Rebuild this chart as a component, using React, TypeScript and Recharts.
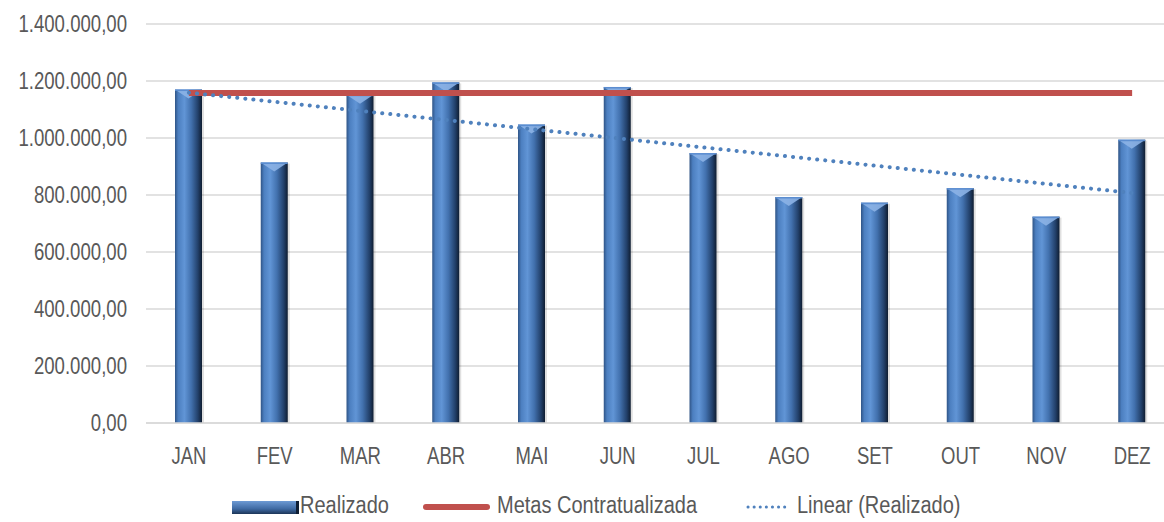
import { Bar, CartesianGrid, ComposedChart, Legend, Line, XAxis, YAxis } from "recharts";

const months = ["JAN", "FEV", "MAR", "ABR", "MAI", "JUN", "JUL", "AGO", "SET", "OUT", "NOV", "DEZ"];
const realizado = [1170000, 914000, 1152000, 1195000, 1047000, 1179000, 947000, 793000, 773000, 824000, 724000, 994000];
const metas = [1158000, 1158000, 1158000, 1158000, 1158000, 1158000, 1158000, 1158000, 1158000, 1158000, 1158000, 1158000];
const tendencia = [1159000, 1127000, 1095000, 1063000, 1031000, 999000, 967000, 935000, 903000, 871000, 839000, 807000];
const yTicks = [0, 200000, 400000, 600000, 800000, 1000000, 1200000, 1400000];

const data = months.map((m, i) => ({
  mes: m,
  realizado: realizado[i],
  metas: metas[i],
  linear: tendencia[i],
}));

const font = "'Liberation Sans', Arial, sans-serif";

// 1400000 -> "1.400.000,00"
function fmtBR(v: number) {
  const s = Math.round(v).toString().replace(/\B(?=(\d{3})+(?!\d))/g, ".");
  return s + ",00";
}

// text is a bit tall and narrow in the source, so stretch it vertically
function YTick(props: any) {
  const { x, y, payload } = props;
  return (
    <g transform={`translate(${x},${y})`}>
      <text transform="scale(1,1.25)" textAnchor="end" dy="0.355em" fill="#595959" fontSize={18.6} fontFamily={font}>
        {fmtBR(payload.value)}
      </text>
    </g>
  );
}

function XTick(props: any) {
  const { x, y, payload } = props;
  return (
    <g transform={`translate(${x},${y})`}>
      <text transform="scale(1,1.25)" textAnchor="middle" dy="0.71em" fill="#595959" fontSize={18.5} fontFamily={font}>
        {payload.value}
      </text>
    </g>
  );
}

function CylBar(props: any) {
  const { x, y, width, height } = props;
  if (!height || height <= 0) return null;
  const bevel = Math.min(9, height);
  return (
    <g>
      <rect x={x + 2} y={y + 1} width={width} height={height - 1} fill="#000" opacity={0.12} />
      <rect x={x} y={y} width={width} height={height} fill="url(#barGrad)" />
      <path d={`M${x},${y} L${x + width},${y} L${x + width / 2},${y + bevel} Z`} fill="#8cb3e6" opacity={0.9} />
      <rect x={x} y={y} width={width} height={1.5} fill="#5b8dd0" />
    </g>
  );
}

function LegendBox() {
  const txt: any = {
    fontFamily: font,
    fontSize: 20,
    color: "#595959",
    position: "absolute",
    top: 2,
    transform: "scaleY(1.15)",
    whiteSpace: "nowrap",
  };
  return (
    <div style={{ height: 30, position: "relative" }}>
      <div style={{ position: "absolute", left: 232, top: 9, width: 64, height: 13, background: "linear-gradient(to bottom, #6d9ad4, #3f6aa3 60%, #1c3557)", borderRight: "3px solid #0f1e33" }} />
      <span style={{ ...txt, left: 300 }}>Realizado</span>
      <div style={{ position: "absolute", left: 423, top: 12, width: 67, height: 6, borderRadius: 3, background: "#c0504d" }} />
      <span style={{ ...txt, left: 497 }}>Metas Contratualizada</span>
      <svg style={{ position: "absolute", left: 746, top: 10 }} width={46} height={10}>
        <line x1={2} y1={5} x2={44} y2={5} stroke="#4f81bd" strokeWidth={3} strokeDasharray="0.1 6" strokeLinecap="round" />
      </svg>
      <span style={{ ...txt, left: 797 }}>Linear (Realizado)</span>
    </div>
  );
}

export default function App() {
  return (
    <div style={{ position: "absolute", left: 0, top: 0, width: 1164, height: 522, overflow: "hidden", background: "#fff" }}>
      <ComposedChart width={1190} height={522} data={data} margin={{ top: 24, right: 15, bottom: 0, left: 0 }}>
        <defs>
          <linearGradient id="barGrad" x1="0" y1="0" x2="1" y2="0">
            <stop offset="0" stopColor="#2f5486" />
            <stop offset="0.12" stopColor="#4c7fc0" />
            <stop offset="0.35" stopColor="#6195d6" />
            <stop offset="0.6" stopColor="#4271ae" />
            <stop offset="0.85" stopColor="#22406a" />
            <stop offset="1" stopColor="#0f1d31" />
          </linearGradient>
        </defs>
        <CartesianGrid vertical={false} stroke="#d9d9d9" strokeWidth={1.5} />
        <XAxis
          dataKey="mes"
          height={69}
          axisLine={{ stroke: "#d9d9d9", strokeWidth: 1.5 }}
          tickLine={false}
          tickSize={0}
          tickMargin={25}
          tick={<XTick />}
        />
        <YAxis
          width={146}
          domain={[0, 1400000]}
          ticks={yTicks}
          axisLine={false}
          tickLine={false}
          tickSize={0}
          tickMargin={19}
          tick={<YTick />}
        />
        <Bar dataKey="realizado" name="Realizado" barSize={27} shape={<CylBar />} isAnimationActive={false} />
        <Line dataKey="metas" name="Metas Contratualizada" stroke="#c0504d" strokeWidth={6} dot={false} activeDot={false} isAnimationActive={false} />
        <Line
          dataKey="linear"
          name="Linear (Realizado)"
          stroke="#4f81bd"
          strokeWidth={4}
          strokeDasharray="0.1 8"
          strokeLinecap="round"
          dot={false}
          activeDot={false}
          isAnimationActive={false}
        />
        <Legend verticalAlign="bottom" height={30} content={() => <LegendBox />} />
      </ComposedChart>
    </div>
  );
}
